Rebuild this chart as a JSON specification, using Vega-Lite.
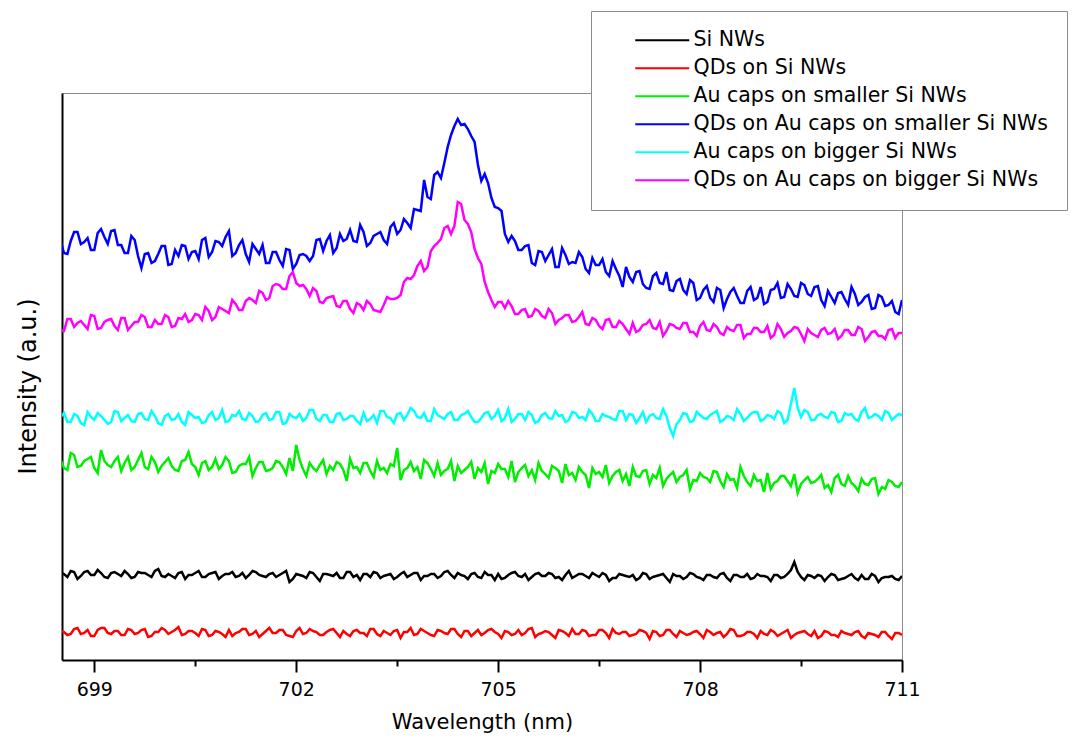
{
"$schema": "https://vega.github.io/schema/vega-lite/v6.json",
"width": 840, "height": 567,
"autosize": {"type": "none"},
"padding": {"left": 62, "top": 93, "right": 185, "bottom": 85},
"background": "white",
"config": {"view": {"stroke": "#8c8c8c", "strokeWidth": 1}, "font": "DejaVu Sans"},
"datasets": {"names": [
{"s": "k", "name": "Si NWs"},
{"s": "r", "name": "QDs on Si NWs"},
{"s": "g", "name": "Au caps on smaller Si NWs"},
{"s": "b", "name": "QDs on Au caps on smaller Si NWs"},
{"s": "c", "name": "Au caps on bigger Si NWs"},
{"s": "m", "name": "QDs on Au caps on bigger Si NWs"}
]},
"data": {"values": [
{"x":698.5,"k":87,"r":29,"g":200,"b":419,"c":243,"m":330},
{"x":698.6,"k":83,"r":25,"g":190,"b":406,"c":238,"m":341},
{"x":698.7,"k":88,"r":31,"g":205,"b":428,"c":246,"m":333},
{"x":698.8,"k":84,"r":26,"g":194,"b":416,"c":237,"m":339},
{"x":698.9,"k":89,"r":30,"g":201,"b":422,"c":248,"m":331},
{"x":699.0,"k":85,"r":24,"g":192,"b":410,"c":240,"m":344},
{"x":699.1,"k":87,"r":32,"g":210,"b":431,"c":244,"m":332},
{"x":699.2,"k":82,"r":27,"g":195,"b":416,"c":236,"m":340},
{"x":699.3,"k":88,"r":29,"g":199,"b":430,"c":249,"m":334},
{"x":699.4,"k":84,"r":25,"g":189,"b":415,"c":239,"m":342},
{"x":699.5,"k":86,"r":31,"g":203,"b":407,"c":245,"m":330},
{"x":699.6,"k":83,"r":26,"g":193,"b":420,"c":238,"m":338},
{"x":699.7,"k":87,"r":30,"g":207,"b":392,"c":247,"m":345},
{"x":699.8,"k":85,"r":23,"g":191,"b":407,"c":240,"m":333},
{"x":699.9,"k":89,"r":28,"g":198,"b":399,"c":244,"m":340},
{"x":700.0,"k":84,"r":32,"g":194,"b":414,"c":235,"m":336},
{"x":700.1,"k":86,"r":26,"g":202,"b":395,"c":246,"m":343},
{"x":700.2,"k":82,"r":30,"g":190,"b":410,"c":241,"m":334},
{"x":700.3,"k":88,"r":25,"g":199,"b":415,"c":238,"m":341},
{"x":700.4,"k":85,"r":29,"g":208,"b":401,"c":248,"m":338},
{"x":700.5,"k":87,"r":27,"g":193,"b":409,"c":242,"m":346},
{"x":700.6,"k":83,"r":31,"g":197,"b":420,"c":237,"m":340},
{"x":700.7,"k":86,"r":24,"g":190,"b":403,"c":245,"m":349},
{"x":700.8,"k":88,"r":29,"g":201,"b":419,"c":240,"m":343},
{"x":700.9,"k":84,"r":26,"g":195,"b":414,"c":250,"m":351},
{"x":701.0,"k":86,"r":30,"g":199,"b":429,"c":239,"m":347},
{"x":701.1,"k":83,"r":27,"g":188,"b":407,"c":244,"m":356},
{"x":701.2,"k":87,"r":31,"g":196,"b":420,"c":241,"m":350},
{"x":701.3,"k":85,"r":25,"g":203,"b":398,"c":247,"m":362},
{"x":701.4,"k":88,"r":29,"g":192,"b":411,"c":238,"m":357},
{"x":701.5,"k":84,"r":26,"g":198,"b":415,"c":245,"m":367},
{"x":701.6,"k":86,"r":32,"g":190,"b":397,"c":240,"m":362},
{"x":701.7,"k":83,"r":27,"g":199,"b":408,"c":248,"m":376},
{"x":701.8,"k":87,"r":30,"g":193,"b":394,"c":236,"m":371},
{"x":701.9,"k":78,"r":24,"g":202,"b":410,"c":246,"m":384},
{"x":702.0,"k":86,"r":29,"g":215,"b":396,"c":242,"m":377},
{"x":702.1,"k":84,"r":26,"g":191,"b":406,"c":239,"m":375},
{"x":702.2,"k":88,"r":31,"g":197,"b":399,"c":250,"m":364},
{"x":702.3,"k":83,"r":28,"g":189,"b":420,"c":241,"m":369},
{"x":702.4,"k":86,"r":25,"g":200,"b":409,"c":245,"m":357},
{"x":702.5,"k":85,"r":30,"g":194,"b":425,"c":238,"m":363},
{"x":702.6,"k":87,"r":27,"g":198,"b":412,"c":246,"m":354},
{"x":702.7,"k":82,"r":29,"g":190,"b":419,"c":240,"m":359},
{"x":702.8,"k":88,"r":24,"g":201,"b":430,"c":244,"m":351},
{"x":702.9,"k":85,"r":30,"g":193,"b":418,"c":239,"m":357},
{"x":703.0,"k":86,"r":27,"g":197,"b":428,"c":247,"m":350},
{"x":703.1,"k":83,"r":31,"g":189,"b":417,"c":241,"m":356},
{"x":703.2,"k":87,"r":26,"g":199,"b":426,"c":237,"m":349},
{"x":703.3,"k":84,"r":29,"g":192,"b":420,"c":249,"m":355},
{"x":703.4,"k":86,"r":25,"g":196,"b":433,"c":242,"m":361},
{"x":703.5,"k":83,"r":30,"g":212,"b":426,"c":246,"m":362},
{"x":703.6,"k":88,"r":28,"g":190,"b":441,"c":240,"m":378},
{"x":703.7,"k":85,"r":32,"g":198,"b":432,"c":252,"m":381},
{"x":703.8,"k":87,"r":26,"g":193,"b":450,"c":243,"m":394},
{"x":703.9,"k":84,"r":29,"g":200,"b":480,"c":247,"m":389},
{"x":704.0,"k":86,"r":25,"g":191,"b":461,"c":239,"m":409},
{"x":704.1,"k":82,"r":30,"g":197,"b":488,"c":245,"m":417},
{"x":704.2,"k":88,"r":27,"g":189,"b":497,"c":241,"m":432},
{"x":704.3,"k":85,"r":31,"g":199,"b":525,"c":248,"m":426},
{"x":704.4,"k":87,"r":26,"g":194,"b":541,"c":240,"m":458},
{"x":704.5,"k":84,"r":29,"g":190,"b":536,"c":246,"m":440},
{"x":704.6,"k":86,"r":24,"g":198,"b":524,"c":243,"m":428},
{"x":704.7,"k":83,"r":30,"g":192,"b":495,"c":238,"m":402},
{"x":704.8,"k":88,"r":27,"g":197,"b":486,"c":247,"m":378},
{"x":704.9,"k":85,"r":31,"g":189,"b":462,"c":241,"m":360},
{"x":705.0,"k":86,"r":26,"g":196,"b":452,"c":250,"m":358},
{"x":705.1,"k":82,"r":29,"g":191,"b":426,"c":242,"m":352},
{"x":705.2,"k":87,"r":25,"g":199,"b":424,"c":238,"m":354},
{"x":705.3,"k":84,"r":30,"g":188,"b":410,"c":246,"m":346},
{"x":705.4,"k":86,"r":27,"g":195,"b":414,"c":240,"m":351},
{"x":705.5,"k":83,"r":32,"g":190,"b":397,"c":245,"m":344},
{"x":705.6,"k":87,"r":26,"g":197,"b":409,"c":239,"m":349},
{"x":705.7,"k":84,"r":29,"g":186,"b":399,"c":247,"m":342},
{"x":705.8,"k":86,"r":25,"g":194,"b":411,"c":241,"m":347},
{"x":705.9,"k":83,"r":30,"g":189,"b":393,"c":244,"m":340},
{"x":706.0,"k":85,"r":27,"g":196,"b":405,"c":238,"m":345},
{"x":706.1,"k":82,"r":31,"g":187,"b":398,"c":248,"m":338},
{"x":706.2,"k":86,"r":26,"g":193,"b":408,"c":242,"m":343},
{"x":706.3,"k":84,"r":29,"g":185,"b":391,"c":240,"m":336},
{"x":706.4,"k":87,"r":25,"g":192,"b":402,"c":246,"m":342},
{"x":706.5,"k":83,"r":30,"g":188,"b":395,"c":239,"m":334},
{"x":706.6,"k":85,"r":27,"g":195,"b":388,"c":244,"m":340},
{"x":706.7,"k":82,"r":31,"g":184,"b":399,"c":241,"m":333},
{"x":706.8,"k":86,"r":26,"g":190,"b":384,"c":249,"m":339},
{"x":706.9,"k":84,"r":28,"g":186,"b":393,"c":240,"m":331},
{"x":707.0,"k":85,"r":25,"g":193,"b":378,"c":245,"m":337},
{"x":707.1,"k":82,"r":30,"g":183,"b":389,"c":242,"m":330},
{"x":707.2,"k":86,"r":27,"g":190,"b":372,"c":238,"m":336},
{"x":707.3,"k":83,"r":29,"g":185,"b":384,"c":246,"m":332},
{"x":707.4,"k":85,"r":24,"g":192,"b":377,"c":241,"m":338},
{"x":707.5,"k":82,"r":30,"g":181,"b":388,"c":244,"m":329},
{"x":707.6,"k":86,"r":26,"g":188,"b":369,"c":224,"m":335},
{"x":707.7,"k":84,"r":29,"g":183,"b":381,"c":240,"m":331},
{"x":707.8,"k":83,"r":25,"g":190,"b":366,"c":246,"m":337},
{"x":707.9,"k":86,"r":28,"g":180,"b":377,"c":239,"m":328},
{"x":708.0,"k":82,"r":26,"g":187,"b":362,"c":245,"m":334},
{"x":708.1,"k":85,"r":30,"g":182,"b":374,"c":241,"m":330},
{"x":708.2,"k":83,"r":25,"g":189,"b":358,"c":247,"m":336},
{"x":708.3,"k":86,"r":28,"g":179,"b":370,"c":238,"m":327},
{"x":708.4,"k":82,"r":26,"g":186,"b":361,"c":244,"m":333},
{"x":708.5,"k":85,"r":30,"g":181,"b":372,"c":240,"m":329},
{"x":708.6,"k":83,"r":24,"g":193,"b":357,"c":246,"m":335},
{"x":708.7,"k":86,"r":28,"g":178,"b":369,"c":242,"m":326},
{"x":708.8,"k":82,"r":26,"g":185,"b":360,"c":248,"m":332},
{"x":708.9,"k":84,"r":29,"g":180,"b":373,"c":239,"m":328},
{"x":709.0,"k":83,"r":25,"g":187,"b":358,"c":245,"m":334},
{"x":709.1,"k":85,"r":28,"g":177,"b":371,"c":241,"m":325},
{"x":709.2,"k":82,"r":26,"g":184,"b":362,"c":247,"m":331},
{"x":709.3,"k":86,"r":30,"g":179,"b":376,"c":240,"m":327},
{"x":709.4,"k":98,"r":25,"g":186,"b":364,"c":272,"m":333},
{"x":709.5,"k":83,"r":28,"g":176,"b":377,"c":243,"m":326},
{"x":709.6,"k":85,"r":26,"g":183,"b":366,"c":248,"m":331},
{"x":709.7,"k":82,"r":29,"g":178,"b":373,"c":240,"m":325},
{"x":709.8,"k":84,"r":24,"g":185,"b":360,"c":246,"m":330},
{"x":709.9,"k":83,"r":28,"g":175,"b":369,"c":242,"m":326},
{"x":710.0,"k":85,"r":25,"g":182,"b":357,"c":247,"m":331},
{"x":710.1,"k":81,"r":29,"g":176,"b":368,"c":239,"m":324},
{"x":710.2,"k":84,"r":26,"g":184,"b":355,"c":245,"m":330},
{"x":710.3,"k":82,"r":28,"g":174,"b":366,"c":241,"m":325},
{"x":710.4,"k":85,"r":24,"g":181,"b":358,"c":248,"m":331},
{"x":710.5,"k":81,"r":27,"g":175,"b":365,"c":242,"m":323},
{"x":710.6,"k":84,"r":25,"g":182,"b":352,"c":246,"m":329},
{"x":710.7,"k":82,"r":28,"g":173,"b":363,"c":240,"m":324},
{"x":710.8,"k":83,"r":24,"g":180,"b":355,"c":247,"m":330},
{"x":710.9,"k":81,"r":27,"g":174,"b":348,"c":243,"m":322},
{"x":711.0,"k":84,"r":25,"g":178,"b":360,"c":245,"m":327},
{"x":698.55,"k":86,"r":28,"g":192,"b":407,"c":247,"m":329},
{"x":698.65,"k":89,"r":26,"g":207,"b":419,"c":238,"m":341},
{"x":698.75,"k":81,"r":32,"g":193,"b":428,"c":244,"m":337},
{"x":698.85,"k":88,"r":27,"g":199,"b":418,"c":235,"m":335},
{"x":698.95,"k":85,"r":24,"g":203,"b":410,"c":243,"m":345},
{"x":699.05,"k":90,"r":30,"g":187,"b":427,"c":247,"m":331},
{"x":699.15,"k":83,"r":32,"g":199,"b":423,"c":240,"m":338},
{"x":699.25,"k":87,"r":26,"g":193,"b":429,"c":238,"m":341},
{"x":699.35,"k":86,"r":29,"g":203,"b":415,"c":248,"m":330},
{"x":699.45,"k":89,"r":25,"g":197,"b":407,"c":242,"m":342},
{"x":699.55,"k":82,"r":30,"g":190,"b":424,"c":239,"m":334},
{"x":699.65,"k":88,"r":27,"g":200,"b":404,"c":246,"m":338},
{"x":699.75,"k":87,"r":31,"g":193,"b":406,"c":241,"m":343},
{"x":699.85,"k":83,"r":24,"g":203,"b":397,"c":249,"m":333},
{"x":699.95,"k":91,"r":28,"g":188,"b":406,"c":237,"m":336},
{"x":700.05,"k":83,"r":30,"g":198,"b":414,"c":244,"m":345},
{"x":700.15,"k":84,"r":28,"g":194,"b":396,"c":240,"m":333},
{"x":700.25,"k":87,"r":33,"g":189,"b":404,"c":246,"m":342},
{"x":700.35,"k":81,"r":26,"g":200,"b":414,"c":235,"m":346},
{"x":700.45,"k":85,"r":29,"g":196,"b":408,"c":245,"m":340},
{"x":700.55,"k":89,"r":24,"g":185,"b":401,"c":243,"m":345},
{"x":700.65,"k":83,"r":30,"g":199,"b":422,"c":238,"m":353},
{"x":700.75,"k":87,"r":25,"g":193,"b":408,"c":248,"m":340},
{"x":700.85,"k":81,"r":28,"g":191,"b":418,"c":242,"m":353},
{"x":700.95,"k":86,"r":23,"g":203,"b":423,"c":238,"m":349},
{"x":701.05,"k":88,"r":24,"g":187,"b":404,"c":245,"m":360},
{"x":701.15,"k":84,"r":28,"g":194,"b":415,"c":249,"m":350},
{"x":701.25,"k":82,"r":31,"g":196,"b":406,"c":240,"m":359},
{"x":701.35,"k":89,"r":26,"g":184,"b":416,"c":244,"m":360},
{"x":701.45,"k":85,"r":23,"g":198,"b":406,"c":239,"m":369},
{"x":701.55,"k":83,"r":29,"g":189,"b":397,"c":247,"m":360},
{"x":701.65,"k":87,"r":27,"g":192,"b":408,"c":241,"m":374},
{"x":701.75,"k":85,"r":30,"g":198,"b":400,"c":248,"m":375},
{"x":701.85,"k":89,"r":25,"g":186,"b":411,"c":237,"m":371},
{"x":701.95,"k":81,"r":23,"g":189,"b":391,"c":243,"m":388},
{"x":702.05,"k":85,"r":32,"g":200,"b":405,"c":246,"m":374},
{"x":702.15,"k":82,"r":27,"g":184,"b":404,"c":242,"m":371},
{"x":702.25,"k":87,"r":29,"g":192,"b":404,"c":250,"m":372},
{"x":702.35,"k":79,"r":25,"g":195,"b":421,"c":239,"m":358},
{"x":702.45,"k":86,"r":28,"g":186,"b":419,"c":245,"m":362},
{"x":702.55,"k":84,"r":31,"g":190,"b":407,"c":238,"m":364},
{"x":702.65,"k":82,"r":23,"g":196,"b":426,"c":247,"m":353},
{"x":702.75,"k":88,"r":26,"g":179,"b":421,"c":241,"m":359},
{"x":702.85,"k":83,"r":29,"g":192,"b":419,"c":244,"m":347},
{"x":702.95,"k":80,"r":27,"g":187,"b":435,"c":236,"m":355},
{"x":703.05,"k":86,"r":24,"g":197,"b":414,"c":239,"m":359},
{"x":703.15,"k":88,"r":31,"g":183,"b":424,"c":245,"m":350},
{"x":703.25,"k":82,"r":24,"g":190,"b":428,"c":249,"m":348},
{"x":703.35,"k":85,"r":27,"g":187,"b":416,"c":243,"m":363},
{"x":703.45,"k":81,"r":29,"g":194,"b":437,"c":237,"m":361},
{"x":703.55,"k":86,"r":22,"g":180,"b":430,"c":247,"m":365},
{"x":703.65,"k":83,"r":28,"g":192,"b":437,"c":245,"m":382},
{"x":703.75,"k":87,"r":25,"g":189,"b":451,"c":249,"m":385},
{"x":703.85,"k":80,"r":31,"g":181,"b":449,"c":242,"m":399},
{"x":703.95,"k":84,"r":27,"g":197,"b":463,"c":239,"m":393},
{"x":704.05,"k":86,"r":24,"g":184,"b":485,"c":251,"m":414},
{"x":704.15,"k":84,"r":29,"g":185,"b":482,"c":243,"m":421},
{"x":704.25,"k":89,"r":26,"g":191,"b":513,"c":246,"m":434},
{"x":704.35,"k":82,"r":31,"g":179,"b":534,"c":240,"m":434},
{"x":704.45,"k":85,"r":23,"g":187,"b":535,"c":245,"m":456},
{"x":704.55,"k":81,"r":29,"g":193,"b":531,"c":249,"m":436},
{"x":704.65,"k":87,"r":27,"g":181,"b":518,"c":238,"m":411},
{"x":704.75,"k":82,"r":25,"g":188,"b":479,"c":242,"m":396},
{"x":704.85,"k":85,"r":30,"g":176,"b":477,"c":248,"m":368},
{"x":704.95,"k":80,"r":28,"g":187,"b":453,"c":244,"m":353},
{"x":705.05,"k":81,"r":22,"g":191,"b":449,"c":239,"m":358},
{"x":705.15,"k":85,"r":28,"g":183,"b":418,"c":251,"m":359},
{"x":705.25,"k":88,"r":26,"g":178,"b":419,"c":241,"m":346},
{"x":705.35,"k":83,"r":25,"g":192,"b":410,"c":246,"m":350},
{"x":705.45,"k":80,"r":31,"g":184,"b":415,"c":248,"m":343},
{"x":705.55,"k":86,"r":23,"g":180,"b":395,"c":237,"m":351},
{"x":705.65,"k":84,"r":27,"g":189,"b":408,"c":245,"m":344},
{"x":705.75,"k":87,"r":28,"g":182,"b":405,"c":242,"m":351},
{"x":705.85,"k":82,"r":22,"g":192,"b":393,"c":249,"m":336},
{"x":705.95,"k":80,"r":29,"g":177,"b":412,"c":245,"m":342},
{"x":706.05,"k":89,"r":24,"g":185,"b":396,"c":240,"m":345},
{"x":706.15,"k":84,"r":26,"g":180,"b":397,"c":247,"m":339},
{"x":706.25,"k":86,"r":30,"g":188,"b":403,"c":243,"m":348},
{"x":706.35,"k":82,"r":24,"g":172,"b":387,"c":250,"m":335},
{"x":706.45,"k":85,"r":25,"g":186,"b":395,"c":239,"m":340},
{"x":706.55,"k":87,"r":30,"g":183,"b":401,"c":246,"m":331},
{"x":706.65,"k":79,"r":22,"g":177,"b":384,"c":243,"m":341},
{"x":706.75,"k":82,"r":27,"g":188,"b":391,"c":240,"m":333},
{"x":706.85,"k":85,"r":28,"g":179,"b":373,"c":249,"m":336},
{"x":706.95,"k":83,"r":24,"g":174,"b":383,"c":246,"m":326},
{"x":707.05,"k":80,"r":26,"g":184,"b":388,"c":237,"m":328},
{"x":707.15,"k":87,"r":29,"g":189,"b":376,"c":248,"m":335},
{"x":707.25,"k":81,"r":21,"g":176,"b":371,"c":244,"m":340},
{"x":707.35,"k":84,"r":28,"g":182,"b":387,"c":242,"m":331},
{"x":707.45,"k":86,"r":25,"g":174,"b":376,"c":251,"m":324},
{"x":707.55,"k":78,"r":30,"g":185,"b":370,"c":232,"m":336},
{"x":707.65,"k":84,"r":23,"g":178,"b":379,"c":236,"m":332},
{"x":707.75,"k":81,"r":27,"g":185,"b":370,"c":247,"m":337},
{"x":707.85,"k":87,"r":26,"g":171,"b":380,"c":238,"m":328},
{"x":707.95,"k":83,"r":29,"g":179,"b":360,"c":248,"m":324},
{"x":708.05,"k":80,"r":22,"g":183,"b":370,"c":242,"m":338},
{"x":708.15,"k":85,"r":28,"g":178,"b":362,"c":245,"m":329},
{"x":708.25,"k":82,"r":27,"g":188,"b":372,"c":249,"m":333},
{"x":708.35,"k":87,"r":23,"g":173,"b":352,"c":240,"m":325},
{"x":708.45,"k":79,"r":31,"g":180,"b":368,"c":243,"m":330},
{"x":708.55,"k":85,"r":24,"g":172,"b":364,"c":251,"m":335},
{"x":708.65,"k":83,"r":25,"g":184,"b":357,"c":239,"m":322},
{"x":708.75,"k":81,"r":28,"g":174,"b":373,"c":246,"m":326},
{"x":708.85,"k":86,"r":22,"g":179,"b":362,"c":248,"m":332},
{"x":708.95,"k":84,"r":26,"g":168,"b":356,"c":241,"m":328},
{"x":709.05,"k":79,"r":30,"g":171,"b":370,"c":244,"m":322},
{"x":709.15,"k":85,"r":24,"g":179,"b":377,"c":249,"m":336},
{"x":709.25,"k":83,"r":28,"g":184,"b":363,"c":237,"m":323},
{"x":709.35,"k":90,"r":22,"g":174,"b":371,"c":256,"m":329},
{"x":709.45,"k":88,"r":27,"g":167,"b":363,"c":252,"m":332},
{"x":709.55,"k":80,"r":29,"g":180,"b":375,"c":250,"m":319},
{"x":709.65,"k":84,"r":24,"g":177,"b":364,"c":240,"m":327},
{"x":709.75,"k":85,"r":22,"g":181,"b":374,"c":245,"m":323},
{"x":709.85,"k":79,"r":29,"g":172,"b":354,"c":243,"m":332},
{"x":709.95,"k":86,"r":25,"g":168,"b":363,"c":248,"m":327},
{"x":710.05,"k":80,"r":23,"g":185,"b":367,"c":238,"m":321},
{"x":710.15,"k":82,"r":27,"g":174,"b":361,"c":247,"m":330},
{"x":710.25,"k":86,"r":25,"g":177,"b":373,"c":246,"m":325},
{"x":710.35,"k":80,"r":29,"g":169,"b":355,"c":239,"m":333},
{"x":710.45,"k":81,"r":22,"g":176,"b":363,"c":252,"m":319},
{"x":710.55,"k":86,"r":26,"g":181,"b":351,"c":243,"m":328},
{"x":710.65,"k":78,"r":23,"g":166,"b":365,"c":244,"m":324},
{"x":710.75,"k":83,"r":28,"g":171,"b":354,"c":249,"m":321},
{"x":710.85,"k":84,"r":21,"g":178,"b":359,"c":240,"m":331},
{"x":710.95,"k":80,"r":27,"g":173,"b":346,"c":246,"m":327}
]},
"transform": [
{"fold": ["k", "r", "g", "b", "c", "m"], "as": ["s", "v"]},
{"lookup": "s", "from": {"data": {"name": "names"}, "key": "s", "fields": ["name"]}}
],
"mark": {"type": "line", "strokeWidth": 2.5, "clip": true},
"encoding": {
"x": {"field": "x", "type": "quantitative",
 "scale": {"domain": [698.52, 711], "nice": false, "zero": false},
 "axis": {"values": [699, 700.5, 702, 703.5, 705, 706.5, 708, 709.5, 711],
  "labelExpr": "datum.value % 3 === 0 ? datum.label : ''", "format": "d",
  "tickSize": {"condition": {"test": "datum.value % 3 === 0", "value": 12}, "value": 6},
  "tickWidth": 2, "tickColor": "black", "domainColor": "black", "domainWidth": 2,
  "labelFont": "DejaVu Sans", "labelFontSize": 19, "labelColor": "black", "labelPadding": 8, "labelFlush": false, "labelOverlap": false,
  "title": "Wavelength (nm)", "titleFont": "DejaVu Sans", "titleFontSize": 21, "titleFontWeight": "normal", "titleColor": "black", "titlePadding": 12, "grid": false}},
"y": {"field": "v", "type": "quantitative",
 "scale": {"domain": [0, 567], "nice": false},
 "axis": {"title": "Intensity (a.u.)", "labels": false, "ticks": false, "grid": false, "domainColor": "black", "domainWidth": 2,
  "titleFont": "DejaVu Sans", "titleFontSize": 24, "titleFontWeight": "normal", "titleColor": "black", "titlePadding": 22, "titleY": 293}},
"color": {"field": "name", "type": "nominal",
 "scale": {"domain": ["Si NWs", "QDs on Si NWs", "Au caps on smaller Si NWs", "QDs on Au caps on smaller Si NWs", "Au caps on bigger Si NWs", "QDs on Au caps on bigger Si NWs"],
  "range": ["#000000", "#ff0000", "#00ee00", "#0000ff", "#00ffff", "#ff00ff"]},
 "legend": {"title": null, "orient": "none", "legendX": 529, "legendY": -82,
  "symbolType": "M-3,0H3", "symbolSize": 324, "symbolStrokeWidth": 2, "symbolOffset": 42, "labelOffset": 21,
  "labelFontSize": 20.5, "labelFont": "DejaVu Sans", "labelColor": "black", "labelLimit": 500,
  "padding": 19, "rowPadding": 7, "strokeColor": "#8c8c8c", "fillColor": "white"}}
}
}
